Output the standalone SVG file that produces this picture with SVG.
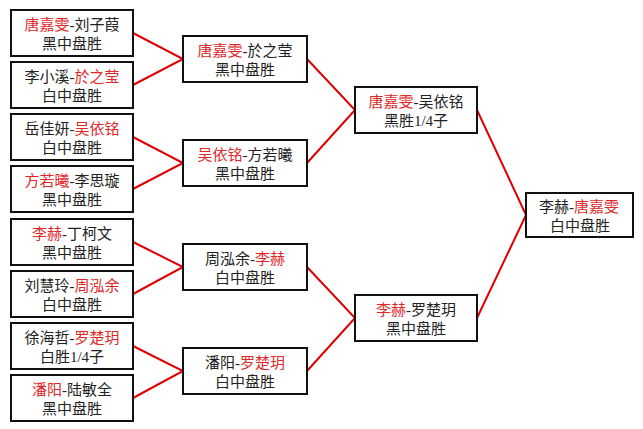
<svg xmlns="http://www.w3.org/2000/svg" width="643" height="429" viewBox="0 0 643 429">
<style>
.box{fill:#fff;stroke:#111;stroke-width:2}
text{font-family:"Liberation Serif","Noto Sans CJK SC",serif;font-size:15px;fill:#222;text-anchor:middle}
.r{fill:#e02828}
.c{fill:none;stroke:#e00000;stroke-width:2}
</style>
<rect width="643" height="429" fill="#fff"/>
<g id="connectors">
<polyline class="c" points="133,33 183,59 133,85"/>
<polyline class="c" points="133,137 183,163 133,189"/>
<polyline class="c" points="133,242 183,267 133,294"/>
<polyline class="c" points="133,346 183,371 133,398"/>
<polyline class="c" points="307,59 355,110 307,163"/>
<polyline class="c" points="307,267 355,318 307,371"/>
<polyline class="c" points="477,110 526,215 477,318"/>
</g>
<g id="n1"><rect class="box" x="11" y="10" width="122" height="46"/><text x="72" y="30"><tspan class="r">唐嘉雯</tspan>-刘子葭</text><text x="72" y="49">黑中盘胜</text></g>
<g id="n2"><rect class="box" x="11" y="62" width="122" height="46"/><text x="72" y="82">李小溪-<tspan class="r">於之莹</tspan></text><text x="72" y="101">白中盘胜</text></g>
<g id="n3"><rect class="box" x="11" y="114" width="122" height="46"/><text x="72" y="134">岳佳妍-<tspan class="r">吴依铭</tspan></text><text x="72" y="153">白中盘胜</text></g>
<g id="n4"><rect class="box" x="11" y="166" width="122" height="46"/><text x="72" y="186"><tspan class="r">方若曦</tspan>-李思璇</text><text x="72" y="205">黑中盘胜</text></g>
<g id="n5"><rect class="box" x="11" y="219" width="122" height="46"/><text x="72" y="239"><tspan class="r">李赫</tspan>-丁柯文</text><text x="72" y="258">黑中盘胜</text></g>
<g id="n6"><rect class="box" x="11" y="271" width="122" height="46"/><text x="72" y="291">刘慧玲-<tspan class="r">周泓余</tspan></text><text x="72" y="310">白中盘胜</text></g>
<g id="n7"><rect class="box" x="11" y="323" width="122" height="46"/><text x="72" y="343">徐海哲-<tspan class="r">罗楚玥</tspan></text><text x="72" y="362">白胜1/4子</text></g>
<g id="n8"><rect class="box" x="11" y="375" width="122" height="46"/><text x="72" y="395"><tspan class="r">潘阳</tspan>-陆敏全</text><text x="72" y="414">黑中盘胜</text></g>
<g id="m1"><rect class="box" x="183" y="36" width="124" height="46"/><text x="245" y="56"><tspan class="r">唐嘉雯</tspan>-於之莹</text><text x="245" y="75">黑中盘胜</text></g>
<g id="m2"><rect class="box" x="183" y="140" width="124" height="46"/><text x="245" y="160"><tspan class="r">吴依铭</tspan>-方若曦</text><text x="245" y="179">黑中盘胜</text></g>
<g id="m3"><rect class="box" x="183" y="244" width="124" height="46"/><text x="245" y="264">周泓余-<tspan class="r">李赫</tspan></text><text x="245" y="283">白中盘胜</text></g>
<g id="m4"><rect class="box" x="183" y="348" width="124" height="46"/><text x="245" y="368">潘阳-<tspan class="r">罗楚玥</tspan></text><text x="245" y="387">白中盘胜</text></g>
<g id="s1"><rect class="box" x="355" y="87" width="122" height="46"/><text x="416" y="107"><tspan class="r">唐嘉雯</tspan>-吴依铭</text><text x="416" y="126">黑胜1/4子</text></g>
<g id="s2"><rect class="box" x="355" y="295" width="122" height="46"/><text x="416" y="315"><tspan class="r">李赫</tspan>-罗楚玥</text><text x="416" y="334">黑中盘胜</text></g>
<g id="f"><rect class="box" x="526" y="193" width="107" height="44"/><text x="579" y="212">李赫-<tspan class="r">唐嘉雯</tspan></text><text x="580" y="231">白中盘胜</text></g>
</svg>
